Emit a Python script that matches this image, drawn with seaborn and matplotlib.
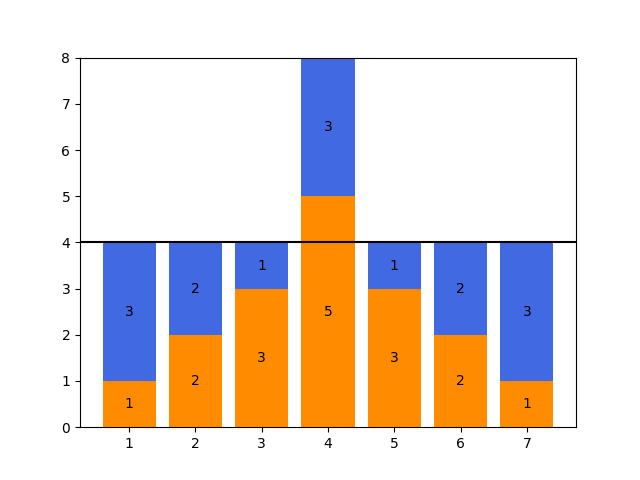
import matplotlib
matplotlib.use('Agg')
import matplotlib.pyplot as plt
import seaborn as sns

positions = [1, 2, 3, 4, 5, 6, 7]
lower_values = [1, 2, 3, 5, 3, 2, 1]
upper_values = [3, 2, 1, 3, 1, 2, 3]
threshold = 4

sns.reset_orig()
fig, ax = plt.subplots(figsize=(6.4, 4.8), dpi=100)

lower = ax.bar(positions, lower_values, width=0.8, color='darkorange')
upper = ax.bar(positions, upper_values, width=0.8, bottom=lower_values,
               color='royalblue')
ax.bar_label(lower, label_type='center')
ax.bar_label(upper, label_type='center')

ax.axhline(threshold, color='black', linewidth=1.5)
ax.set_ylim(0, 8)

fig.savefig('out.png')
plt.close(fig)
